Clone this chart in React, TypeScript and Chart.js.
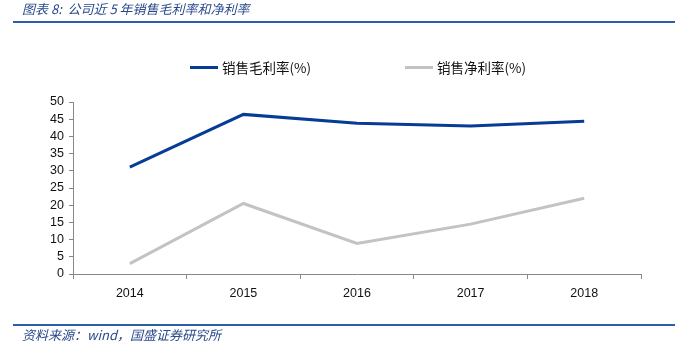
import React, { useEffect, useRef } from "react";
import { Chart, registerables } from "chart.js";

Chart.register(...registerables);

const years = ["2014", "2015", "2016", "2017", "2018"];
const grossMargin = [31.1, 46.4, 43.8, 43.0, 44.4];
const netMargin = [3.0, 20.5, 8.9, 14.5, 22.0];
const seriesNames = ["销售毛利率(%)", "销售净利率(%)"];
const titleText = "图表 8:  公司近 5 年销售毛利率和净利率";
const sourceText = "资料来源：wind，国盛证券研究所";

const BLUE = "#063C96";
const GRAY = "#C3C3C3";
const CJK = "'Noto Sans CJK SC', 'DejaVu Sans', sans-serif";
const NUM = "'Liberation Sans', Arial, sans-serif";

export default function App() {
  const ref = useRef<HTMLCanvasElement | null>(null);

  useEffect(() => {
    document.body.style.margin = "0";
    const canvas = ref.current;
    if (!canvas) return;
    const chart = new Chart(canvas, {
      type: "line",
      data: {
        labels: years,
        datasets: [
          {
            label: seriesNames[0],
            data: grossMargin,
            borderColor: BLUE,
            backgroundColor: BLUE,
            borderWidth: 3,
            pointRadius: 0,
            tension: 0,
          },
          {
            label: seriesNames[1],
            data: netMargin,
            borderColor: GRAY,
            backgroundColor: GRAY,
            borderWidth: 3,
            pointRadius: 0,
            tension: 0,
          },
        ],
      },
      options: {
        responsive: false,
        animation: false,
        layout: { padding: { top: 102, right: 46, left: 0, bottom: 0 } },
        plugins: {
          legend: { display: false },
          title: { display: false },
          tooltip: { enabled: false },
        },
        scales: {
          x: {
            offset: true,
            grid: {
              offset: true,
              drawOnChartArea: false,
              drawTicks: true,
              tickLength: 5,
              color: "#888888",
            },
            border: { color: "#888888", width: 1 },
            ticks: {
              color: "#111111",
              padding: 7,
              font: { family: NUM, size: 12.5 },
            },
            afterFit: (s: any) => {
              s.height = 81;
            },
          },
          y: {
            min: 0,
            max: 50,
            ticks: {
              stepSize: 5,
              autoSkip: false,
              color: "#111111",
              padding: 5,
              font: { family: NUM, size: 12.5 },
            },
            grid: {
              drawOnChartArea: false,
              drawTicks: true,
              tickLength: 4,
              color: "#888888",
            },
            border: { color: "#888888", width: 1 },
            afterFit: (s: any) => {
              s.width = 73;
            },
          },
        },
      },
    });
    return () => chart.destroy();
  }, []);

  const legendItem = (left: number, color: string, text: string) => (
    <div
      style={{
        position: "absolute",
        left,
        top: 58,
        display: "flex",
        alignItems: "center",
        height: 18,
      }}
    >
      <div style={{ width: 28, height: 3, background: color, marginRight: 4 }} />
      <span style={{ fontFamily: CJK, fontSize: 13.5, color: "#111" }}>{text}</span>
    </div>
  );

  return (
    <div style={{ position: "relative", width: 687, height: 355, background: "#fff" }}>
      <div
        style={{
          position: "absolute",
          left: 22,
          top: 0,
          fontFamily: CJK,
          fontStyle: "italic",
          fontSize: 13,
          color: "#2A4A8C",
          whiteSpace: "pre",
          lineHeight: "18px",
        }}
      >
        {titleText}
      </div>
      <div
        style={{
          position: "absolute",
          left: 13,
          right: 12,
          top: 21,
          height: 2,
          background: "#2E5EA8",
        }}
      />
      {legendItem(190, BLUE, seriesNames[0])}
      {legendItem(405, GRAY, seriesNames[1])}
      <canvas ref={ref} width={687} height={355} style={{ display: "block" }} />
      <div
        style={{
          position: "absolute",
          left: 13,
          right: 12,
          top: 324,
          height: 2,
          background: "#2E5EA8",
        }}
      />
      <div
        style={{
          position: "absolute",
          left: 22,
          top: 326,
          fontFamily: CJK,
          fontStyle: "italic",
          fontSize: 13,
          color: "#2A4A8C",
          whiteSpace: "pre",
          lineHeight: "18px",
        }}
      >
        {sourceText}
      </div>
    </div>
  );
}
